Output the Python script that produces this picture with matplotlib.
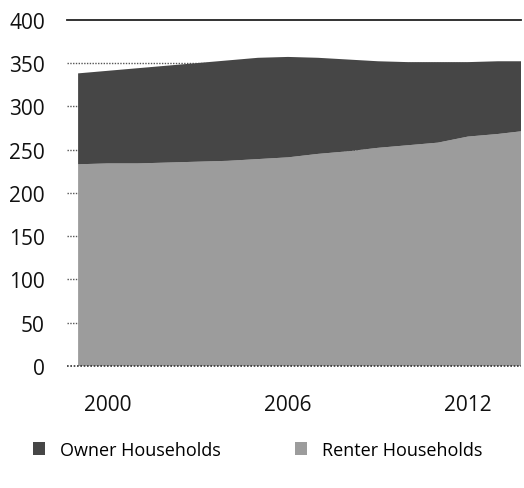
import matplotlib
matplotlib.use("Agg")
import matplotlib.pyplot as plt
from matplotlib.patches import Patch
import numpy as np

# values (thousands of households)
years = [1999, 2000, 2001, 2002, 2003, 2004, 2005, 2006, 2007,
         2008, 2009, 2010, 2011, 2012, 2013, 2014]
renter = [233, 234, 234, 235, 236, 237, 239, 241, 245,
          248, 252, 255, 258, 265, 268, 272]
owner = [105, 107, 110, 112, 114, 116, 117, 116, 111,
         106, 100, 96, 93, 86, 84, 80]

yticks = [0, 50, 100, 150, 200, 250, 300, 350, 400]
xticks = [2000, 2006, 2012]

owner_col = "#464646"
renter_col = "#9c9c9c"

plt.rcParams['font.family'] = ['Open Sans', 'DejaVu Sans']

fig = plt.figure(figsize=(5.24, 4.89), dpi=100)
ax = fig.add_axes([67/524, (489-367)/489, (521-67)/524, (367-20.7)/489])

ax.stackplot(years, renter, owner, colors=[renter_col, owner_col],
             linewidth=0, zorder=2)

ax.set_xlim(1998.63, 2013.77)
ax.set_ylim(0, 400)

# gridlines: solid at top, dotted elsewhere (the base line sits over the area)
for v in yticks:
    if v == 400:
        ax.axhline(v, color="#222222", lw=1.3, zorder=1, clip_on=False)
    elif v == 0:
        ax.axhline(v, color="#333333", lw=1.2, ls=(0, (1, 1)), zorder=3, clip_on=False)
    else:
        ax.axhline(v, color="#555555", lw=1.0, ls=(0, (1, 1)), zorder=1)

ax.set_yticks(yticks)
ax.set_xticks(xticks)
ax.tick_params(axis='y', length=0, pad=16, labelsize=15, colors="#111111")
ax.tick_params(axis='x', length=0, pad=20, labelsize=15, colors="#111111")
for s in ax.spines.values():
    s.set_visible(False)

handles = [Patch(facecolor=owner_col, edgecolor="none", label="Owner Households"),
           Patch(facecolor=renter_col, edgecolor="none", label="Renter Households")]
fig.legend(handles=handles, loc='center left', bbox_to_anchor=(33/524, 0.078),
           ncol=2, frameon=False, fontsize=13, handlelength=0.67, handleheight=0.67,
           handletextpad=0.83, columnspacing=4.1, borderpad=0, borderaxespad=0)

fig.savefig("out.png", dpi=100)
